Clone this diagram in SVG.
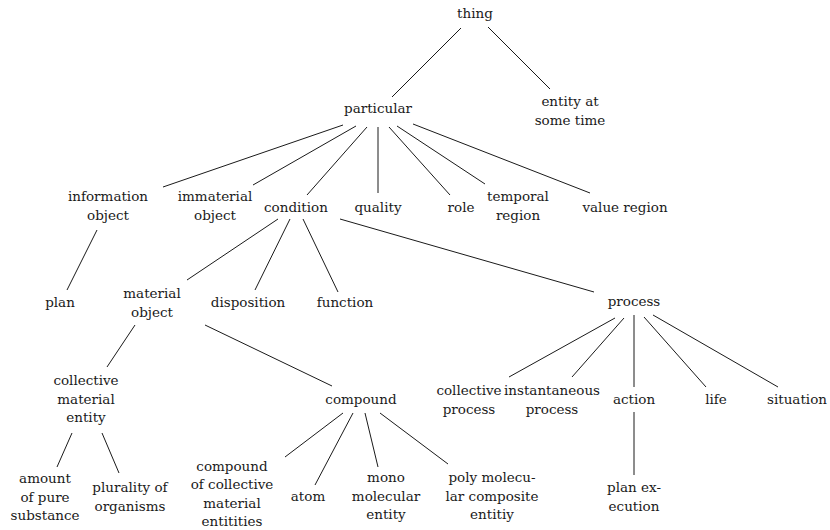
<svg xmlns="http://www.w3.org/2000/svg" width="830" height="530" viewBox="0 0 830 530" font-family="'DejaVu Serif', serif" font-size="13.5">
<style>
text{fill:#1a1a1a;text-anchor:middle}
#edges line{stroke:#1a1a1a;stroke-width:1}
</style>
<rect width="830" height="530" fill="#fff"/>
<g id="edges">
<line x1="461" y1="28" x2="392" y2="97"/>
<line x1="488" y1="27" x2="550" y2="89"/>
<line x1="343" y1="125" x2="163" y2="187"/>
<line x1="356" y1="126" x2="253" y2="185"/>
<line x1="367" y1="127" x2="307" y2="195"/>
<line x1="378" y1="127" x2="378" y2="193"/>
<line x1="389" y1="127" x2="450" y2="195"/>
<line x1="397" y1="126" x2="485" y2="184"/>
<line x1="413" y1="124" x2="590" y2="193"/>
<line x1="97" y1="230" x2="67" y2="290"/>
<line x1="278" y1="219" x2="187" y2="280"/>
<line x1="290" y1="219" x2="255" y2="290"/>
<line x1="303" y1="219" x2="338" y2="292"/>
<line x1="340" y1="219" x2="594" y2="292"/>
<line x1="135" y1="325" x2="107" y2="367"/>
<line x1="205" y1="325" x2="332" y2="386"/>
<line x1="72" y1="433" x2="57" y2="467"/>
<line x1="102" y1="433" x2="119" y2="473"/>
<line x1="343" y1="413" x2="285" y2="457"/>
<line x1="353" y1="413" x2="315" y2="485"/>
<line x1="365" y1="413" x2="378" y2="467"/>
<line x1="380" y1="413" x2="448" y2="464"/>
<line x1="615" y1="318" x2="509" y2="377"/>
<line x1="624" y1="318" x2="572" y2="377"/>
<line x1="634" y1="315" x2="634" y2="387"/>
<line x1="644" y1="317" x2="706" y2="387"/>
<line x1="653" y1="315" x2="778" y2="387"/>
<line x1="634" y1="412" x2="634" y2="475"/>
</g>
<g id="thing"><text x="475" y="18">thing</text></g>
<g id="particular"><text x="378" y="113">particular</text></g>
<g id="entity-at-some-time"><text x="570" y="106">entity at<tspan x="570" dy="18.5">some time</tspan></text></g>
<g id="information-object"><text x="108" y="201">information<tspan x="108" dy="18.5">object</tspan></text></g>
<g id="immaterial-object"><text x="215" y="201">immaterial<tspan x="215" dy="18.5">object</tspan></text></g>
<g id="condition"><text x="296" y="212">condition</text></g>
<g id="quality"><text x="378" y="212">quality</text></g>
<g id="role"><text x="461" y="212">role</text></g>
<g id="temporal-region"><text x="518" y="201">temporal<tspan x="518" dy="18.5">region</tspan></text></g>
<g id="value-region"><text x="625" y="212">value region</text></g>
<g id="plan"><text x="60" y="307">plan</text></g>
<g id="material-object"><text x="152" y="298">material<tspan x="152" dy="18.5">object</tspan></text></g>
<g id="disposition"><text x="248" y="307">disposition</text></g>
<g id="function"><text x="345" y="307">function</text></g>
<g id="process"><text x="634" y="306">process</text></g>
<g id="collective-material-entity"><text x="86" y="385">collective<tspan x="86" dy="18.5">material</tspan><tspan x="86" dy="18.5">entity</tspan></text></g>
<g id="compound"><text x="361" y="404">compound</text></g>
<g id="collective-process"><text x="469" y="395">collective<tspan x="469" dy="18.5">process</tspan></text></g>
<g id="instantaneous-process"><text x="552" y="395">instantaneous<tspan x="552" dy="18.5">process</tspan></text></g>
<g id="action"><text x="634" y="404">action</text></g>
<g id="life"><text x="716" y="404">life</text></g>
<g id="situation"><text x="797" y="404">situation</text></g>
<g id="amount-of-pure-substance"><text x="45" y="483">amount<tspan x="45" dy="18.5">of pure</tspan><tspan x="45" dy="18.5">substance</tspan></text></g>
<g id="plurality-of-organisms"><text x="130" y="492">plurality of<tspan x="130" dy="18.5">organisms</tspan></text></g>
<g id="compound-of-collective-material-entitities"><text x="232" y="471">compound<tspan x="232" dy="18.3">of collective</tspan><tspan x="232" dy="18.3">material</tspan><tspan x="232" dy="18.3">entitities</tspan></text></g>
<g id="atom"><text x="308" y="501">atom</text></g>
<g id="mono-molecular-entity"><text x="386" y="482">mono<tspan x="386" dy="18.5">molecular</tspan><tspan x="386" dy="18.5">entity</tspan></text></g>
<g id="poly-molecular-composite-entitiy"><text x="492" y="482">poly molecu-<tspan x="492" dy="18.5">lar composite</tspan><tspan x="492" dy="18.5">entitiy</tspan></text></g>
<g id="plan-execution"><text x="634" y="492">plan ex-<tspan x="634" dy="18.5">ecution</tspan></text></g>
</svg>
